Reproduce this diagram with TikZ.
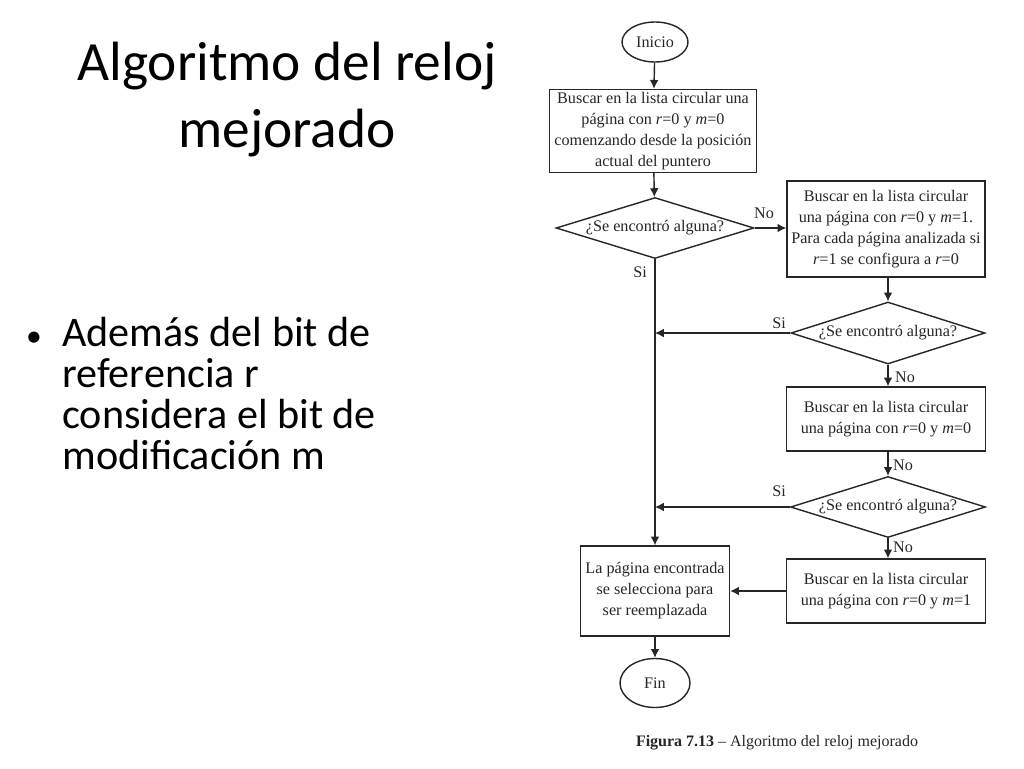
\documentclass[tikz,border=0pt]{standalone}
\usepackage{fontspec}
\setmainfont{Carlito}
\newfontfamily\fcfont{Liberation Serif}
\usetikzlibrary{shapes.geometric,arrows.meta}
\begin{document}
\begin{tikzpicture}[x=0.02cm,y=-0.02cm,
  fc/.style={font=\fcfont\fontsize{9.2}{12}\selectfont, text=black!85},
  procbox/.style={fc, draw=black!85, line width=0.8pt, align=center, inner sep=1pt},
  decis/.style={fc, draw=black!85, line width=0.8pt, diamond, inner sep=0pt, aspect=3},
  term/.style={fc, draw=black!85, line width=0.8pt, ellipse, inner sep=0pt},
  flow/.style={draw=black!85, line width=0.8pt, -{Latex[length=5pt,width=5pt]}},
  lbl/.style={fc, inner sep=1pt}]
\useasboundingbox (0,0) rectangle (1024,768);
\fill[white] (0,0) rectangle (1024,768);

% slide title and bullet
\node[font=\fontsize{31.5}{38}\selectfont, align=center, anchor=base, inner sep=0pt] (title) at (287,147)
  {Algoritmo del reloj\\mejorado};
\node[font=\fontsize{18}{20}\selectfont, anchor=base, inner sep=0pt] (bul) at (34,346) {•};
\node[font=\fontsize{24}{23.3}\selectfont, align=left, anchor=base west, inner sep=0pt] (btext) at (62,469)
  {Además del bit de\\referencia r\\considera el bit de\\modificación m};

% flowchart
\node[term, minimum width=1.32cm, minimum height=0.8cm] (ini) at (655,42) {Inicio};
\node[procbox, minimum width=4.14cm, minimum height=1.66cm] (b1) at (653,131)
  {Buscar en la lista circular una\\página con \textit{r}=0 y \textit{m}=0\\comenzando desde la posición\\actual del puntero};
\node[decis, minimum width=3.96cm, minimum height=1.22cm] (d1) at (655,228) {¿Se encontró alguna?};
\node[procbox, minimum width=3.96cm, minimum height=1.92cm] (b2) at (886,229)
  {Buscar en la lista circular\\una página con \textit{r}=0 y \textit{m}=1.\\Para cada página analizada si\\\textit{r}=1 se configura a \textit{r}=0};
\node[decis, minimum width=3.88cm, minimum height=1.24cm] (d2) at (888,333) {¿Se encontró alguna?};
\node[procbox, minimum width=3.98cm, minimum height=1.28cm] (b3) at (886,419)
  {Buscar en la lista circular\\una página con \textit{r}=0 y \textit{m}=0};
\node[decis, minimum width=3.9cm, minimum height=1.22cm] (d3) at (888,507) {¿Se encontró alguna?};
\node[procbox, minimum width=3.98cm, minimum height=1.28cm] (b4) at (886,591)
  {Buscar en la lista circular\\una página con \textit{r}=0 y \textit{m}=1};
\node[procbox, minimum width=2.98cm, minimum height=1.8cm] (b5) at (655,591)
  {La página encontrada\\se selecciona para\\ser reemplazada};
\node[term, minimum width=1.4cm, minimum height=0.98cm] (fin) at (655,683) {Fin};

\coordinate (j2) at (d2.west -| d1.south);
\coordinate (j3) at (d3.west -| d1.south);

\draw[flow] (ini) -- (b1);
\draw[flow] (b1) -- (d1);
\draw[flow] (d1.east) -- (b2.west |- d1.east);
\draw[flow] (d1.south) -- (b5.north);
\draw[flow] (b2.south -| d2.north) -- (d2.north);
\draw[flow] (d2.west) -- (j2);
\draw[flow] (d2.south) -- (b3.north -| d2.south);
\draw[flow] (b3.south -| d3.north) -- (d3.north);
\draw[flow] (d3.west) -- (j3);
\draw[flow] (d3.south) -- (b4.north -| d3.south);
\draw[flow] (b4.west) -- (b5.east);
\draw[flow] (b5) -- (fin);

% labels
\node[lbl] (l1) at (764,213) {No};
\node[lbl] (l2) at (640,272) {Si};
\node[lbl] (l3) at (779,323) {Si};
\node[lbl] (l4) at (905,377) {No};
\node[lbl] (l5) at (903,465) {No};
\node[lbl] (l6) at (779,491) {Si};
\node[lbl] (l7) at (903,547) {No};

% caption
\node[fc, font=\fcfont\fontsize{9.1}{12}\selectfont] (cap) at (777,743) {\textbf{Figura 7.13} – Algoritmo del reloj mejorado};
\end{tikzpicture}
\end{document}
